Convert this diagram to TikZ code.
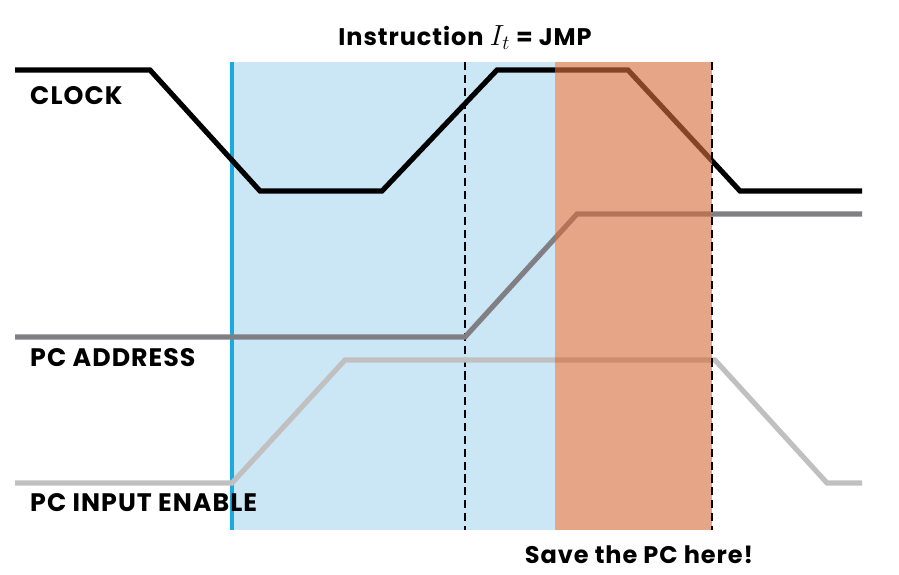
\documentclass[tikz,border=0pt]{standalone}
\usepackage{fontspec}
\setmainfont{Poppins}[LetterSpace=4]
\usepackage{tikz}
\usetikzlibrary{positioning}
\definecolor{phaseblue}{RGB}{203,230,244}
\definecolor{edgeblue}{RGB}{27,169,225}
\definecolor{saveorange}{RGB}{214,110,60}
\definecolor{addrgray}{RGB}{128,128,132}
\definecolor{enablegray}{RGB}{192,192,192}

\begin{document}
\begin{tikzpicture}[x=0.03cm, y=-0.03cm,
      every node/.style={font=\fontsize{20.5}{24}\selectfont\bfseries, inner sep=0pt},
      siglabel/.style={anchor=base west, font=\fontsize{21.6}{24}\selectfont\bfseries},
      wave/.style={line width=4.4pt, line join=miter},
      marker/.style={dashed, line width=1.1pt, dash pattern=on 7pt off 4pt}
    ]
      \useasboundingbox (0,0) rectangle (899,574);

      % Phases: fetch (blue) and save window (orange, drawn later)
      \fill[phaseblue] (232,62) rectangle (555,530);
      \draw[edgeblue, line width=2.6pt] (232,62) -- (232,530);
      \draw[marker] (465,62) -- (465,530);

      % Signals
      \draw[wave, black] (15,70) -- (150,70) -- (260,191) -- (382,191) -- (497,70)
        -- (628,70) -- (740,191) -- (862,191);
      \draw[wave, addrgray] (15,337) -- (465,337) -- (577,214) -- (862,214);
      \draw[wave, enablegray] (15,483) -- (232,483) -- (345,360) -- (715,360)
        -- (827,483) -- (862,483);

      % Save window over the signals
      \fill[saveorange, fill opacity=0.62] (555,62) rectangle (712,530);
      \draw[marker] (712,62) -- (712,530);

      % Labels
      \node[siglabel] (clk) at (30,104) {CLOCK};
      \node[siglabel] (addr) at (30,366) {PC ADDRESS};
      \node[siglabel] (pcen) at (30,511) {PC INPUT ENABLE};
      \node[anchor=base] (title) at (465,45) {Instruction {\fontsize{25}{28}\selectfont$I_t$} = JMP};
      \node[anchor=base] (save) at (639,563) {Save the PC here!};
    \end{tikzpicture}
\end{document}
